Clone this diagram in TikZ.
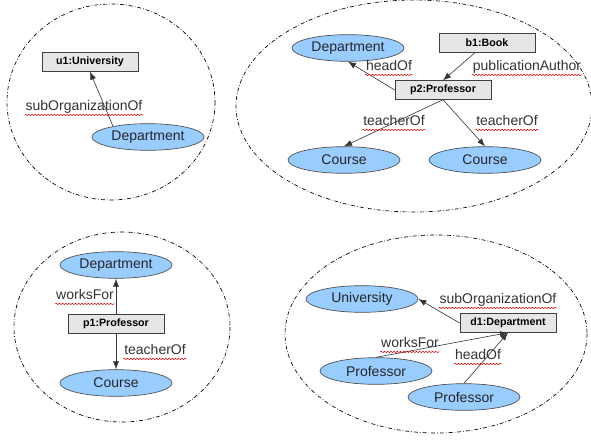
\documentclass[tikz,border=0pt]{standalone}
\usepackage{fontspec}
\setmainfont{Liberation Sans}
\usetikzlibrary{shapes.geometric,arrows.meta,decorations.pathmorphing}
\definecolor{classblue}{HTML}{99CCFF}
\definecolor{instgray}{HTML}{E6E6E6}

\begin{document}
\begin{tikzpicture}[x=0.75pt,y=-0.75pt,
  region/.style={line width=0.5pt, dash pattern=on 3pt off 1.5pt on 0.5pt off 1.5pt},
  inst/.style={draw=black!75, fill=instgray, line width=0.5pt, minimum width=72pt, minimum height=14pt, inner sep=1pt, font=\fontsize{8}{9}\selectfont\bfseries},
  cls/.style={ellipse, draw=black!70, fill=classblue, line width=0.5pt, minimum width=84pt, minimum height=20pt, inner sep=0pt, font=\fontsize{10.5}{12}\selectfont, text=black!85},
  prop/.style={font=\fontsize{10.5}{12}\selectfont, text=black!80, inner sep=0.5pt, text height=8pt, text depth=2.5pt},
  rel/.style={draw=black!80, line width=0.45pt, -{Latex[length=6pt,width=4.5pt]}},
  squiggle/.style={draw=red!85!black, line width=0.4pt, decorate, decoration={snake,amplitude=0.5pt,segment length=2.4pt}}]
\useasboundingbox (0,0) rectangle (591,441);
%================================================================
%	Regions
\draw[region] (111,102) ellipse [x radius=104, y radius=98];
\draw[region] (414,106) ellipse [x radius=178, y radius=106];
\draw[region] (122,327) ellipse [x radius=108, y radius=95];
\draw[region] (436,334) ellipse [x radius=151, y radius=99];
%================================================================
%	Pattern 1
\node[inst] (u1) at (90,62) {u1:University};
\node[cls] (dep1) at (148,137) {Department};
\draw[rel] (dep1.163) -- (u1.south);
\node[prop] (l1) at (84,107) {subOrganizationOf};
\draw[squiggle] (l1.south west) -- (l1.south east);
%================================================================
%	Pattern 2
\node[cls] (dep2) at (348,48) {Department};
\node[inst] (b1) at (487,43) {b1:Book};
\node[inst] (p2) at (443,90) {p2:Professor};
\node[cls] (crs2a) at (344,160) {Course};
\node[cls] (crs2b) at (485,160) {Course};
%----------------------------------------------------------------
\draw[rel] (p2.west) -- (dep2.south);
\draw[rel] ([xshift=-9pt]b1.south) -- (p2.north);
\draw[rel] (p2.south) -- (crs2a.north);
\draw[rel] (p2.south) -- (crs2b.north);
%----------------------------------------------------------------
\node[prop] (l2) at (389,67) {headOf};
\node[prop] (l3) at (527,67) {publicationAuthor};
\node[prop] (l4) at (394,122) {teacherOf};
\node[prop] (l5) at (507,122) {teacherOf};
\foreach \l in {l2,l3,l4,l5}
  \draw[squiggle] (\l.south west) -- (\l.south east);
%================================================================
%	Pattern 3
\node[cls] (dep3) at (116,265) {Department};
\node[inst] (p1) at (116,324) {p1:Professor};
\node[cls] (crs3) at (116,383) {Course};
\draw[rel] (p1.north) -- (dep3.south);
\draw[rel] (p1.south) -- (crs3.north);
%----------------------------------------------------------------
\node[prop] (l6) at (85,296) {worksFor};
\node[prop] (l7) at (155,351) {teacherOf};
\draw[squiggle] (l6.south west) -- (l6.south east);
\draw[squiggle] (l7.south west) -- (l7.south east);
%================================================================
%	Pattern 4
\node[cls] (uni4) at (362,299) {University};
\node[inst] (d1) at (508,323) {d1:Department};
\node[cls] (prof4a) at (376,371) {Professor};
\node[cls] (prof4b) at (464,397) {Professor};
\draw[rel] (d1.west) -- (uni4.east);
\draw[rel] (prof4a.north) -- (d1.south);
\draw[rel] (prof4b.north) -- (d1.south);
%----------------------------------------------------------------
\node[prop] (l8) at (498,300) {subOrganizationOf};
\node[prop] (l9) at (410,344) {worksFor};
\node[prop] (l10) at (478,356) {headOf};
\foreach \l in {l8,l9,l10}
  \draw[squiggle] (\l.south west) -- (\l.south east);
%================================================================
\end{tikzpicture}
\end{document}
